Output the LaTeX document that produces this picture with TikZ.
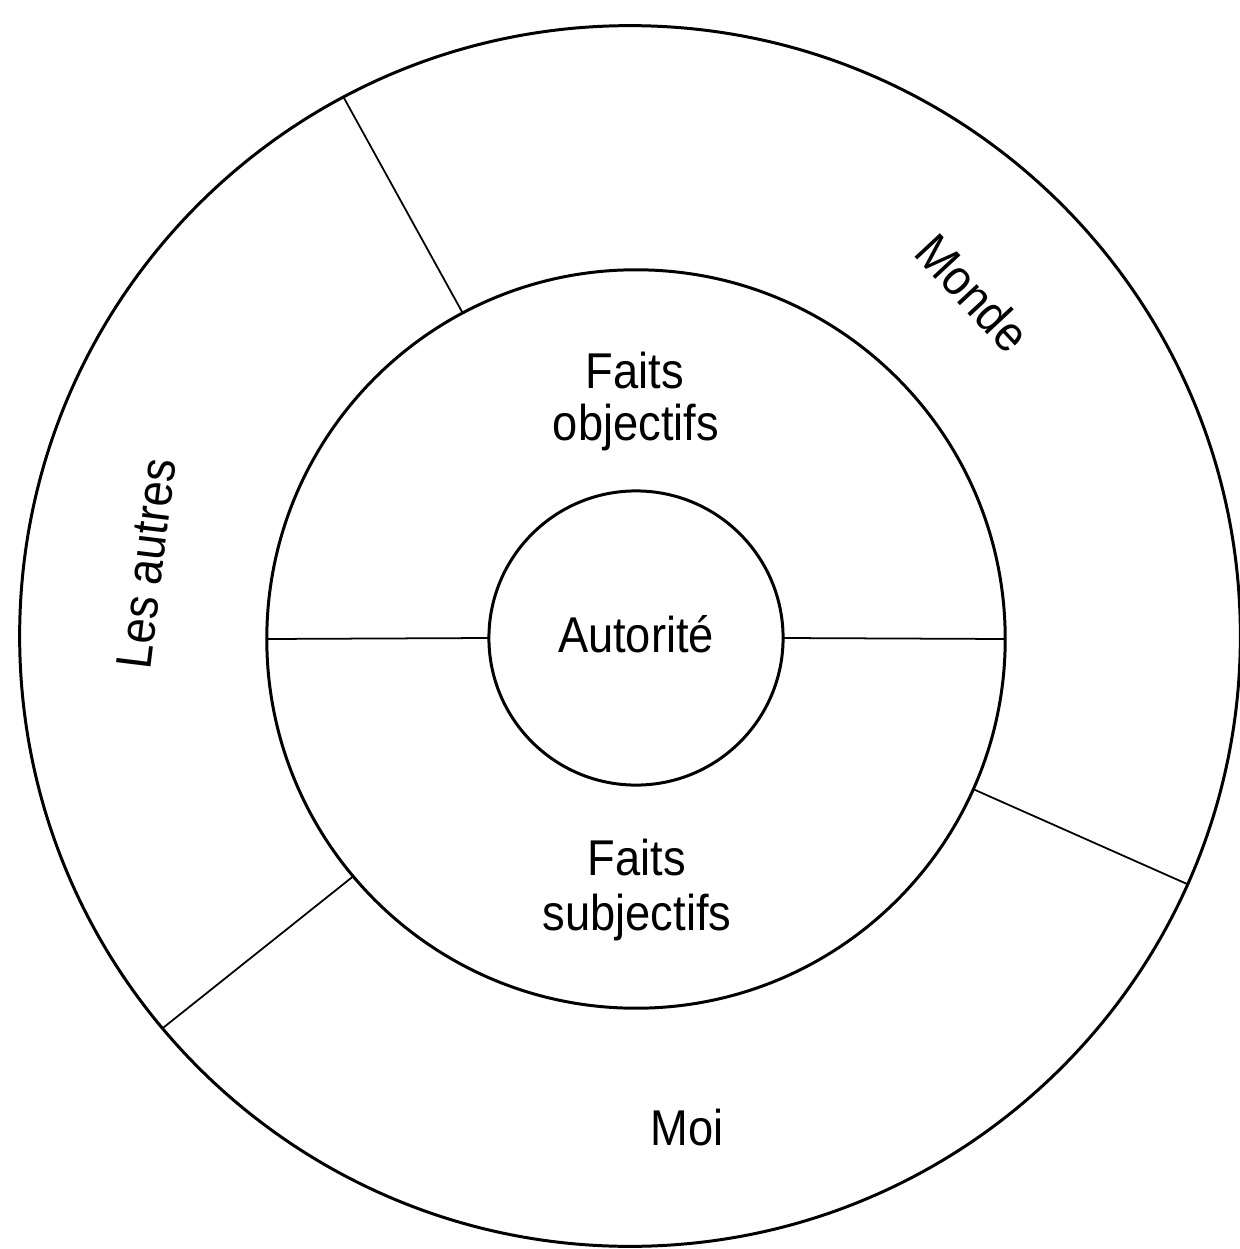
\documentclass[tikz,border=0pt]{standalone}
\usepackage{fontspec}
\setmainfont[FakeStretch=0.9]{Liberation Sans}
\begin{document}
\begin{tikzpicture}[x=0.01cm,y=-0.01cm,
  ring/.style={circle, draw, line width=0.85pt, inner sep=0pt, outer sep=0pt},
  spoke/.style={line width=0.5pt},
  lbl/.style={font=\fontsize{14.3pt}{16pt}\selectfont, inner sep=0pt, anchor=base}]
\fill[white] (0,0) rectangle (1240,1249);
\useasboundingbox (0,0) rectangle (1240,1249);
\node[ring, minimum size=12.2cm] (outer) at (630,636) {};
\node[ring, minimum size=7.38cm] (middle) at (636,639) {};
\node[ring, minimum size=2.94cm] (inner) at (636,638) {};
\draw[spoke] (inner.180) -- (middle.180);
\draw[spoke] (inner.0) -- (middle.0);
\draw[spoke] (middle.118) -- (outer.118);
\draw[spoke] (middle.-24.5) -- (outer.-24.5);
\draw[spoke] (middle.220) -- (outer.220);
\node[lbl] (fo1) at (635,388) {Faits};
\node[lbl] (fo2) at (636,440) {objectifs};
\node[lbl] (aut) at (636,652) {Autorité};
\node[lbl] (fs1) at (637,875) {Faits};
\node[lbl] (fs2) at (637,930) {subjectifs};
\node[lbl] (moi) at (687,1145) {Moi};
\node[lbl, rotate=83] (autres) at (163,566) {Les autres};
\node[lbl, rotate=-47] (monde) at (960,305) {Monde};
\end{tikzpicture}
\end{document}
